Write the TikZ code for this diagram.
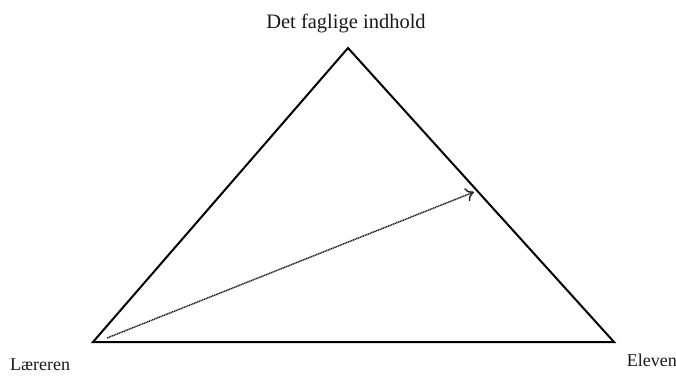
\documentclass[tikz,border=0pt]{standalone}
\usepackage{fontspec}
\setmainfont{Liberation Serif}
\usetikzlibrary{arrows.meta}
\tikzset{
  side/.style={line width=2pt, line join=miter},
  lbl/.style={inner sep=0pt, text=black!90},
  dotarrow/.style={line width=1.5pt, dash pattern=on 1.2pt off 0.6pt, -{To[length=8pt,width=14pt,line width=1.5pt]}, black!85}
}
\begin{document}
\begin{tikzpicture}[x=1pt,y=-1pt]
\useasboundingbox (0,0) rectangle (676,376);
\coordinate (L) at (93,342);
\coordinate (T) at (348,48);
\coordinate (R) at (614,342);
\draw[side] (L) -- (T) -- (R) -- cycle;
\coordinate (A0) at (107,338);
\coordinate (A1) at (474,192);
\draw[dotarrow] (A0) -- (A1);
\node[lbl, font=\fontsize{20.5}{24}\selectfont] (top) at (346,23) {Det faglige indhold};
\node[lbl, font=\fontsize{18}{21}\selectfont, anchor=west] (lar) at (10,365) {Læreren};
\node[lbl, font=\fontsize{18}{21}\selectfont, anchor=east] (ele) at (677,360) {Eleven};
\end{tikzpicture}
\end{document}
